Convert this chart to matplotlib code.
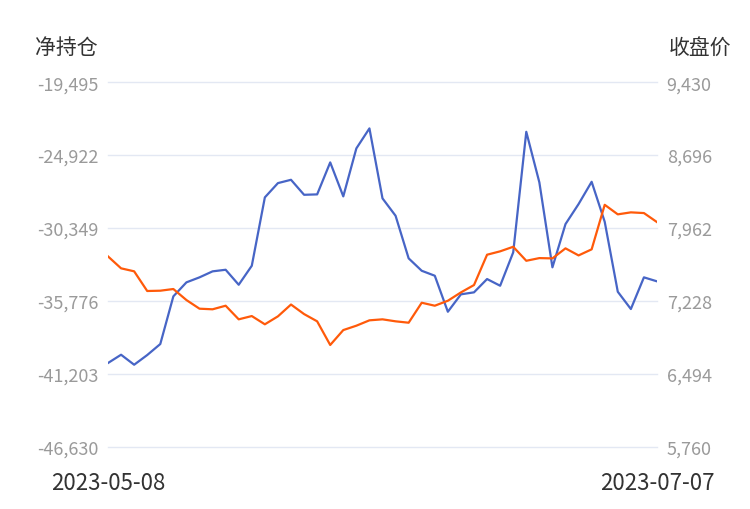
"""
净持仓 vs 收盘价 双轴折线图
"""
import matplotlib
matplotlib.use('Agg')
import matplotlib.pyplot as plt
import numpy as np

plt.rcParams['font.family'] = ['Noto Sans CJK SC', 'DejaVu Sans']

# ── 数据 ──
start_date = '2023-05-08'
end_date = '2023-07-07'

net_position = [
    -40385, -39769, -40513, -39792, -38973, -35427, -34386, -34014, -33568, -33449,
    -34564, -33152, -28066, -27005, -26758, -27874, -27844, -25465, -27992, -24424,
    -22936, -28141, -29434, -32601, -33524, -33894, -36572, -35277, -35129, -34140,
    -34638, -32156, -23190, -26951, -33269, -30052, -28564, -26907, -29882, -35085,
    -36370, -34014, -34311,
]
close_price = [
    7677, 7557, 7527, 7329, 7332, 7349, 7238, 7151, 7145, 7181,
    7044, 7077, 6994, 7074, 7193, 7097, 7024, 6786, 6936, 6980,
    7034, 7044, 7024, 7010, 7211, 7181, 7231, 7315, 7389, 7694,
    7728, 7774, 7633, 7660, 7657, 7758, 7687, 7748, 8196, 8100,
    8120, 8113, 8022,
]

left_ticks = [-46630, -41203, -35776, -30349, -24922, -19495]
right_ticks = [5760, 6494, 7228, 7962, 8696, 9430]

BLUE = '#4765c6'
ORANGE = '#ff5a0a'
GRID = '#e3e8f3'
TICK = '#9a9a9a'

fig = plt.figure(figsize=(7.5, 5.1), dpi=100)
ax = fig.add_axes([0.144, 0.1216, 0.732, 0.7154])
ax2 = ax.twinx()

x = np.arange(len(net_position))
ax.plot(x, net_position, color=BLUE, linewidth=1.6, zorder=3)
ax2.plot(x, close_price, color=ORANGE, linewidth=1.6, zorder=3)

ax.set_xlim(0, len(x) - 1)
ax.set_ylim(left_ticks[0], left_ticks[-1])
ax2.set_ylim(right_ticks[0], right_ticks[-1])

ax.set_yticks(left_ticks)
ax.set_yticklabels([f'{v:,}' for v in left_ticks])
ax2.set_yticks(right_ticks)
ax2.set_yticklabels([f'{v:,}' for v in right_ticks])

ax.set_xticks([0, len(x) - 1])
ax.set_xticklabels([start_date, end_date])

ax.grid(axis='y', color=GRID, linewidth=1)
for gl in ax.get_ygridlines():
    gl.set_clip_on(False)
for a in (ax, ax2):
    for s in a.spines.values():
        s.set_visible(False)
ax.tick_params(axis='y', length=0, pad=7, labelsize=13, labelcolor=TICK)
ax2.tick_params(axis='y', length=0, pad=7, labelsize=13, labelcolor=TICK)
ax.tick_params(axis='x', length=0, pad=17, labelsize=16, labelcolor='#333333')

fig.text(35 / 750, 1 - 48 / 510, '净持仓', fontsize=15, color='#333333', va='center', ha='left')
fig.text(731 / 750, 1 - 48 / 510, '收盘价', fontsize=15, color='#333333', va='center', ha='right')

fig.savefig('out.png', dpi=100)
